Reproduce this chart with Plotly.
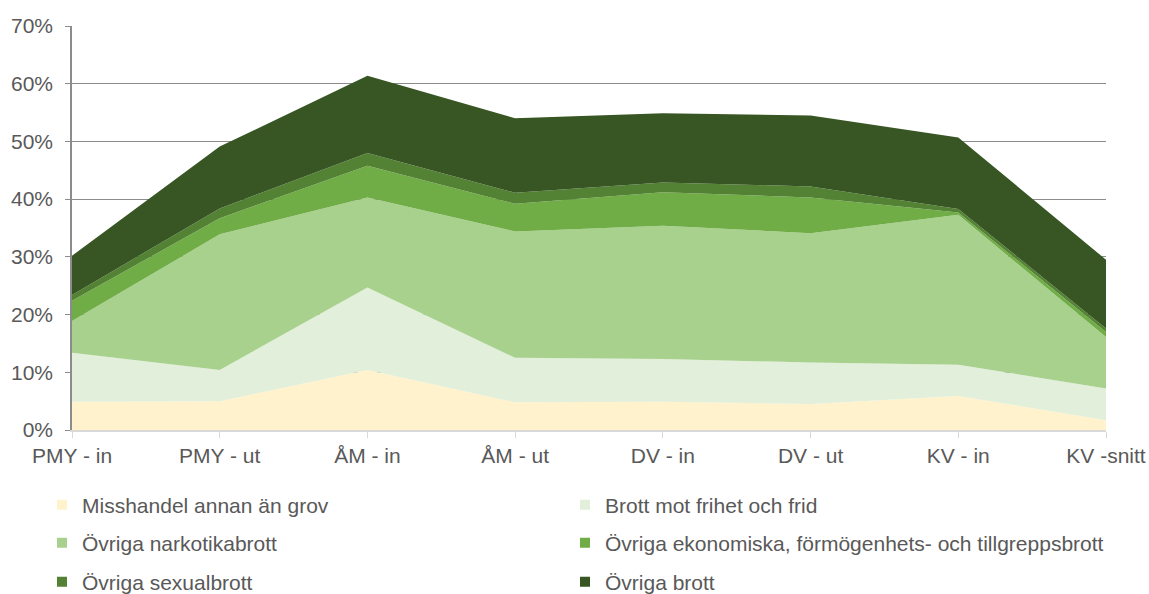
import plotly.graph_objects as go

# Kategorier (x-axeln)
kategorier = ["PMY - in", "PMY - ut", "ÅM - in", "ÅM - ut", "DV - in", "DV - ut", "KV - in", "KV -snitt"]

# Andelar per brottstyp (staplade ytor, i procent)
misshandel = [4.9, 5.0, 10.4, 4.8, 4.9, 4.5, 5.9, 1.7]
frihet_frid = [8.5, 5.4, 14.3, 7.7, 7.4, 7.2, 5.4, 5.5]
narkotika = [5.5, 23.5, 15.6, 21.9, 23.1, 22.4, 26.0, 8.9]
ekonomiska = [3.5, 2.8, 5.5, 4.8, 5.8, 6.2, 0.4, 0.9]
sexualbrott = [1.0, 1.7, 2.2, 1.9, 1.7, 1.9, 0.6, 0.6]
ovriga = [6.8, 10.7, 13.4, 12.9, 12.0, 12.3, 12.4, 11.9]

serier = [
    ("Misshandel annan än grov", misshandel, "#FFF2CC"),
    ("Brott mot frihet och frid", frihet_frid, "#E2EFDA"),
    ("Övriga narkotikabrott", narkotika, "#A9D18E"),
    ("Övriga ekonomiska, förmögenhets- och tillgreppsbrott", ekonomiska, "#70AD47"),
    ("Övriga sexualbrott", sexualbrott, "#548235"),
    ("Övriga brott", ovriga, "#375623"),
]

textfarg = "#595959"
font = dict(family="Liberation Sans, Arial", size=21, color=textfarg)

# plotytan: x 72..1106 px, y 26..430 px -> legendernas lägen i paper-koordinater
kol_x = [(42 - 72) / 1034, (565 - 72) / 1034]
rad_y = [(430 - 505) / 404, (430 - 543) / 404, (430 - 582) / 404]

fig = go.Figure()
legender = {}
for i, (namn, varden, farg) in enumerate(serier):
    fig.add_trace(go.Scatter(
        x=kategorier, y=[v / 100 for v in varden], name=namn,
        mode="lines", stackgroup="one", line=dict(width=0, color=farg),
        fillcolor=farg, showlegend=False))
    # legendpost med liten kvadrat, en legend per cell (2 kolumner x 3 rader)
    leg = "legend" if i == 0 else f"legend{i + 1}"
    fig.add_trace(go.Scatter(
        x=[None], y=[None], name=namn, mode="markers",
        marker=dict(symbol="square", size=10, color=farg),
        legend=leg, showlegend=True))
    legender[leg] = dict(orientation="h", xref="paper", yref="paper",
                         x=kol_x[i % 2], y=rad_y[i // 2],
                         xanchor="left", yanchor="middle",
                         font=font, bgcolor="rgba(0,0,0,0)", itemclick=False)

fig.update_layout(
    width=1149, height=594,
    margin=dict(l=72, r=43, t=26, b=164, autoexpand=False),
    paper_bgcolor="white", plot_bgcolor="white",
    font=font,
    xaxis=dict(type="category", range=[0, 7], showgrid=False, automargin=False,
               showline=True, linecolor="#D9D9D9", linewidth=1.5,
               ticks="outside", ticklen=6, tickcolor="#D9D9D9",
               tickfont=font, zeroline=False),
    yaxis=dict(range=[0, 0.7], dtick=0.1, tickformat=".0%", automargin=False,
               showgrid=True, gridcolor="#8C8C8C", gridwidth=1,
               showline=True, linecolor="#8C8C8C", linewidth=1.5,
               ticks="outside", ticklen=5, tickcolor="#8C8C8C",
               ticklabelstandoff=8, tickfont=font, zeroline=False),
    **legender,
)

# sidans standardmarginal bort så att figuren fyller fönstret
fig.write_html("out.html", config={"displayModeBar": False},
               post_script="document.body.style.margin='0';")
